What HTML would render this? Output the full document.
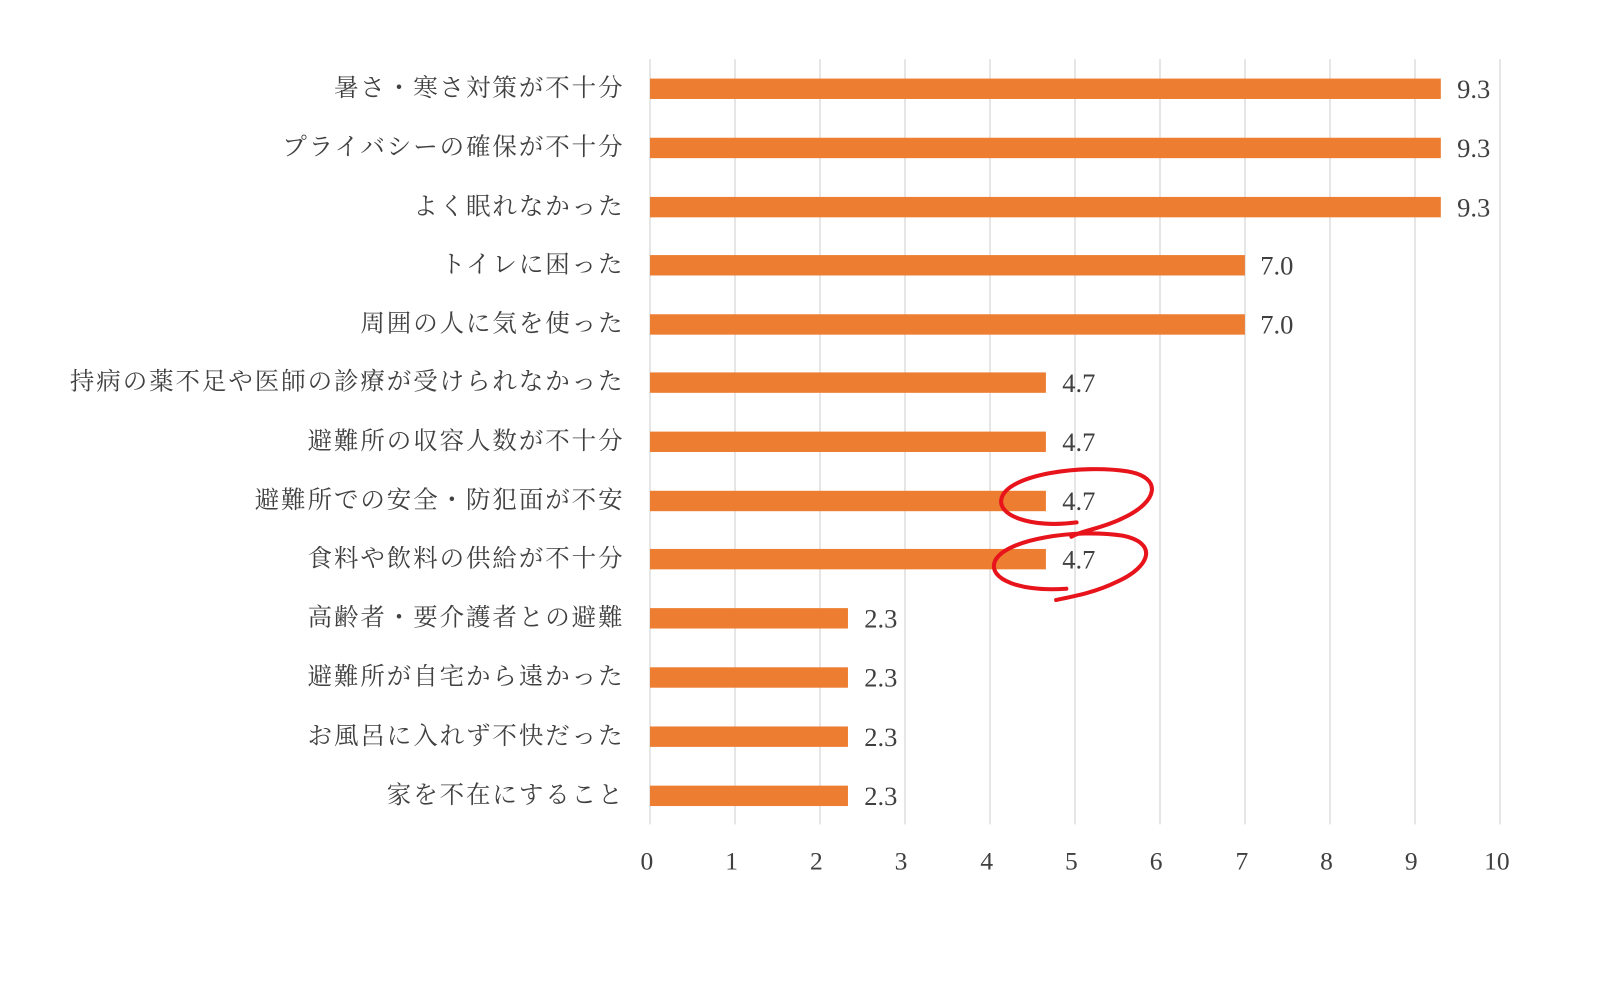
<!DOCTYPE html>
<html><head><meta charset="utf-8"><style>
html,body{margin:0;padding:0;background:#fff;width:1600px;height:1004px;overflow:hidden}
</style></head><body>
<svg width="1600" height="1004" viewBox="0 0 1568 984" preserveAspectRatio="none" xmlns="http://www.w3.org/2000/svg" font-family="'Liberation Serif','Noto Serif CJK SC','Noto Serif CJK JP',serif">
<g stroke="#d9d9d9" stroke-width="1.3">
<line x1="637" y1="58" x2="637" y2="808"/><line x1="720.3" y1="58" x2="720.3" y2="808"/><line x1="803.6" y1="58" x2="803.6" y2="808"/><line x1="886.9" y1="58" x2="886.9" y2="808"/><line x1="970.2" y1="58" x2="970.2" y2="808"/><line x1="1053.5" y1="58" x2="1053.5" y2="808"/><line x1="1136.8" y1="58" x2="1136.8" y2="808"/><line x1="1220.1" y1="58" x2="1220.1" y2="808"/><line x1="1303.4" y1="58" x2="1303.4" y2="808"/><line x1="1386.7" y1="58" x2="1386.7" y2="808"/><line x1="1470" y1="58" x2="1470" y2="808"/>
</g>
<g fill="#ED7D31">
<rect x="637" y="77" width="775" height="20"/><rect x="637" y="135" width="775" height="20"/><rect x="637" y="193" width="775" height="20"/>
<rect x="637" y="250" width="583" height="20"/><rect x="637" y="308" width="583" height="20"/>
<rect x="637" y="365" width="388" height="20"/><rect x="637" y="423" width="388" height="20"/><rect x="637" y="481" width="388" height="20"/><rect x="637" y="538" width="388" height="20"/>
<rect x="637" y="596" width="194" height="20"/><rect x="637" y="654" width="194" height="20"/><rect x="637" y="712" width="194" height="20"/><rect x="637" y="770" width="194" height="20"/>
</g>
<g font-size="24" fill="#404040" text-anchor="end" letter-spacing="1.9">
<text x="612" y="94">暑さ・寒さ対策が不十分</text>
<text x="612" y="152">プライバシーの確保が不十分</text>
<text x="612" y="210">よく眠れなかった</text>
<text x="612" y="267">トイレに困った</text>
<text x="612" y="325">周囲の人に気を使った</text>
<text x="612" y="382">持病の薬不足や医師の診療が受けられなかった</text>
<text x="612" y="440">避難所の収容人数が不十分</text>
<text x="612" y="498">避難所での安全・防犯面が不安</text>
<text x="612" y="555">食料や飲料の供給が不十分</text>
<text x="612" y="613">高齢者・要介護者との避難</text>
<text x="612" y="671">避難所が自宅から遠かった</text>
<text x="612" y="729">お風呂に入れず不快だった</text>
<text x="612" y="787">家を不在にすること</text>
</g>
<g font-size="26" fill="#404040">
<text x="1428" y="96">9.3</text><text x="1428" y="154">9.3</text><text x="1428" y="212">9.3</text>
<text x="1235" y="269">7.0</text><text x="1235" y="327">7.0</text>
<text x="1041" y="384">4.7</text><text x="1041" y="442">4.7</text><text x="1041" y="500">4.7</text><text x="1041" y="557">4.7</text>
<text x="847" y="615">2.3</text><text x="847" y="673">2.3</text><text x="847" y="731">2.3</text><text x="847" y="789">2.3</text>
</g>
<g font-size="25" fill="#404040" text-anchor="middle">
<text x="634" y="852">0</text><text x="717" y="852">1</text><text x="800" y="852">2</text><text x="883" y="852">3</text><text x="967" y="852">4</text><text x="1050" y="852">5</text><text x="1133" y="852">6</text><text x="1217" y="852">7</text><text x="1300" y="852">8</text><text x="1383" y="852">9</text><text x="1467" y="852">10</text>
</g>
<g fill="none" stroke="#e8141c" stroke-width="4" stroke-linecap="round">
<path d="M1055 512 C1010 518 975 505 982 487 C990 465 1060 455 1105 462 C1140 468 1135 492 1100 508 C1080 518 1060 520 1050 526"/>
<path d="M1045 577 C1000 580 968 568 975 550 C985 528 1055 518 1100 525 C1135 532 1128 555 1095 570 C1075 580 1055 584 1035 588"/>
</g>
</svg>
</body></html>
